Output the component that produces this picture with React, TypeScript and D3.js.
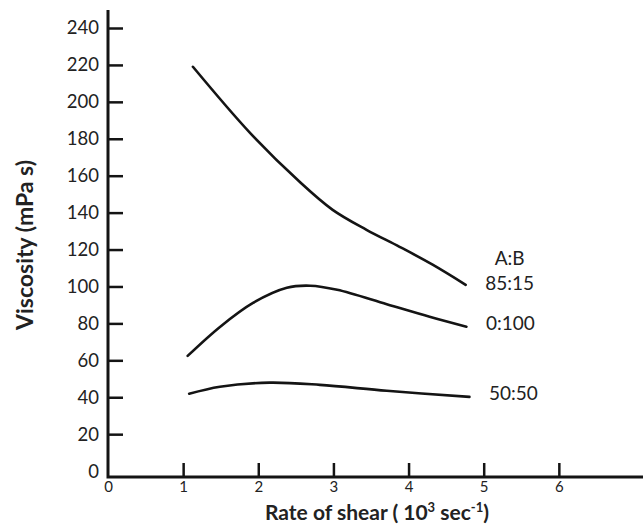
import React, { useEffect, useRef } from "react";
import * as d3 from "d3";

// shear rate (10^3 sec^-1) vs viscosity (mPa s)
const ratio8515 = [
  [1.13, 219.0], [1.89, 183.2], [2.55, 156.7], [2.99, 141.5], [3.44, 130.7],
  [3.88, 121.5], [4.32, 111.8], [4.76, 100.9],
];
const ratio0100 = [
  [1.06, 62.4], [1.49, 78.1], [1.93, 91.1], [2.38, 99.3], [2.69, 100.4],
  [3.05, 98.2], [3.71, 90.4], [4.28, 83.6], [4.77, 78.2],
];
const ratio5050 = [
  [1.08, 41.9], [1.49, 45.7], [2.15, 47.9], [2.82, 46.7], [3.71, 43.5], [4.81, 40.2],
];
const seriesNames = ["85:15", "0:100", "50:50"];
const xTicks = [0, 1, 2, 3, 4, 5, 6];
const yTicks = [0, 20, 40, 60, 80, 100, 120, 140, 160, 180, 200, 220, 240];

const W = 643;
const H = 524;
const FONT = "Lato, 'Open Sans', sans-serif";
const INK = "#141414";

function drawChart(svgEl: SVGSVGElement) {
  const svg = d3.select(svgEl);
  svg.selectAll("*").remove();

  const x = d3.scaleLinear().domain([0, 7.12]).range([108, W]);
  const y = d3.scaleLinear().domain([-3.2, 240]).range([477, 28]);
  const baseY = y(-3.2);

  // y axis
  const yAxis = svg
    .append("g")
    .attr("transform", `translate(${x(0)},0)`)
    .call(d3.axisLeft(y).tickValues(yTicks).tickSize(-15).tickPadding(9));
  yAxis.select(".domain").remove();
  yAxis.selectAll(".tick line").attr("stroke", INK).attr("stroke-width", 2.5);
  yAxis.selectAll(".tick").filter((d: any) => d === 0).select("line").remove();
  yAxis
    .selectAll(".tick text")
    .attr("fill", "#222")
    .style("font-family", FONT)
    .style("font-size", "18.5px");

  // x axis
  const xAxis = svg
    .append("g")
    .attr("transform", `translate(0,${baseY})`)
    .call(d3.axisBottom(x).tickValues(xTicks).tickSize(-14).tickPadding(4));
  xAxis.select(".domain").remove();
  xAxis.selectAll(".tick line").attr("stroke", INK).attr("stroke-width", 2.5);
  xAxis.selectAll(".tick").filter((d: any) => d === 0).select("line").remove();
  xAxis
    .selectAll(".tick text")
    .attr("fill", "#222")
    .style("font-family", FONT)
    .style("font-size", "15px");

  // axis lines
  svg
    .append("path")
    .attr("d", `M${x(0)},10V${baseY}H${W}`)
    .attr("fill", "none")
    .attr("stroke", INK)
    .attr("stroke-width", 3);

  // curves
  const line = d3
    .line<number[]>()
    .x((d) => x(d[0]))
    .y((d) => y(d[1]))
    .curve(d3.curveCatmullRom.alpha(0.5));

  const all = [ratio8515, ratio0100, ratio5050];
  all.forEach((s, i) => {
    svg
      .append("path")
      .attr("d", line(s))
      .attr("fill", "none")
      .attr("stroke", INK)
      .attr("stroke-width", 2.6)
      .attr("stroke-linecap", "round");

    const last = s[s.length - 1];
    svg
      .append("text")
      .attr("x", x(last[0]) + 44)
      .attr("y", y(last[1]) + (i === 0 ? 5 : 3))
      .attr("text-anchor", "middle")
      .attr("fill", "#222")
      .style("font-family", FONT)
      .style("font-size", "19px")
      .text(seriesNames[i]);
  });

  const head = ratio8515[ratio8515.length - 1];
  svg
    .append("text")
    .attr("x", x(head[0]) + 44)
    .attr("y", y(head[1]) - 20)
    .attr("text-anchor", "middle")
    .attr("fill", "#222")
    .style("font-family", FONT)
    .style("font-size", "19px")
    .text("A:B");

  // axis titles
  const xt = svg
    .append("text")
    .attr("x", 377)
    .attr("y", 520)
    .attr("text-anchor", "middle")
    .attr("fill", "#222")
    .style("font-family", FONT)
    .style("font-size", "21px")
    .style("font-weight", "bold");
  xt.append("tspan").text("Rate of shear ( 10");
  xt.append("tspan").attr("dy", -8).style("font-size", "13px").text("3");
  xt.append("tspan").attr("dy", 8).text(" sec");
  xt.append("tspan").attr("dy", -8).style("font-size", "13px").text("-1");
  xt.append("tspan").attr("dy", 8).text(")");

  svg
    .append("text")
    .attr("transform", "translate(33,245) rotate(-90)")
    .attr("text-anchor", "middle")
    .attr("fill", "#222")
    .style("font-family", FONT)
    .style("font-size", "23px")
    .style("font-weight", "bold")
    .text("Viscosity (mPa s)");
}

export default function App() {
  const ref = useRef<SVGSVGElement>(null);

  useEffect(() => {
    if (ref.current) drawChart(ref.current);
  }, []);

  return (
    <svg
      ref={ref}
      width={W}
      height={H}
      style={{ position: "absolute", left: 0, top: 0, background: "#fff" }}
    />
  );
}
